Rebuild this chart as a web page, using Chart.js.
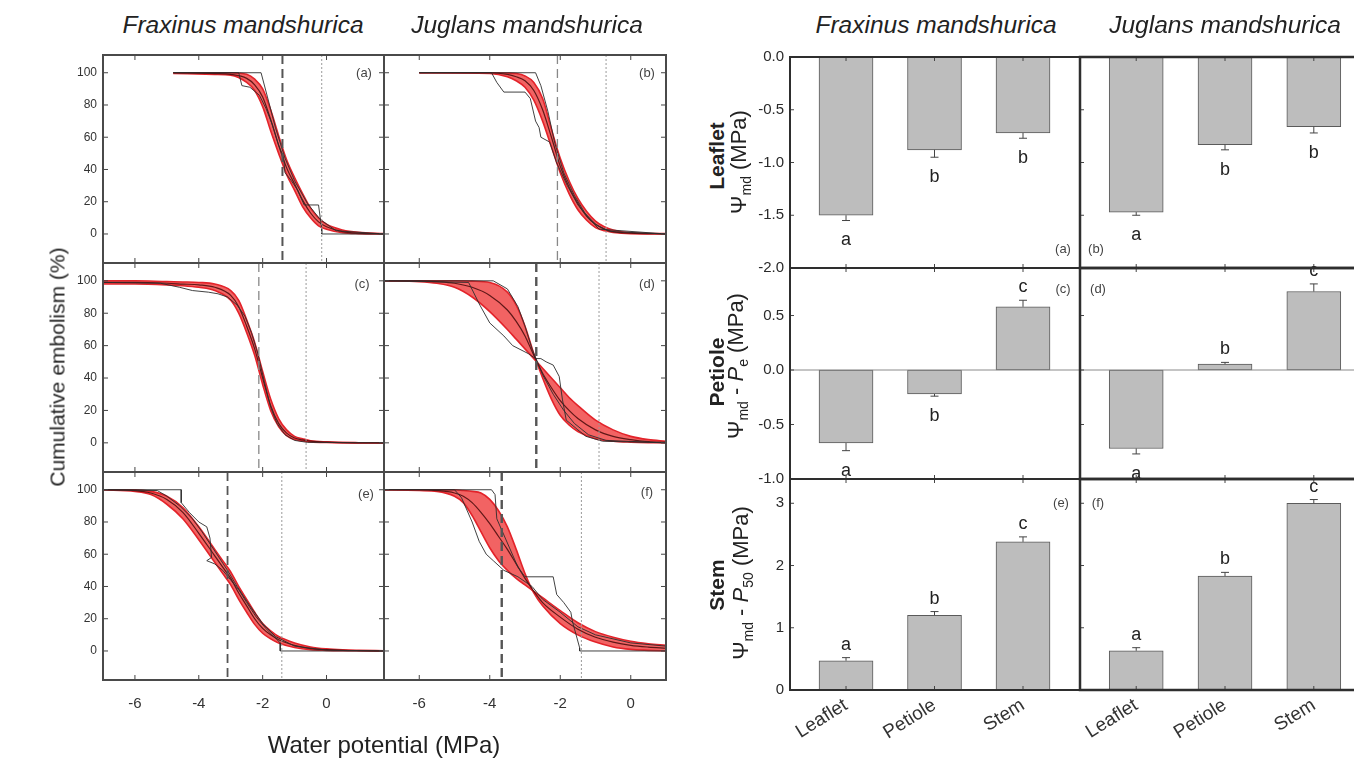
<!DOCTYPE html>
<html><head><meta charset="utf-8">
<script src="https://cdn.jsdelivr.net/npm/chart.js@4.4.1/dist/chart.umd.min.js"></script>
<style>
html,body{margin:0;padding:0;background:#fff;overflow:hidden;width:1354px;height:767px;position:relative;}
canvas{position:absolute;}
.t{position:absolute;font-family:"Liberation Sans",Arial,Helvetica,sans-serif;color:#222;white-space:nowrap;transform:translate(-50%,-50%);line-height:1;}
.hd{font-style:italic;font-size:24.5px;}
.rot{transform:translate(-50%,-50%) rotate(-90deg);}
.pl{font-size:13px;color:#444;}
.yt{font-size:22px;}
.yt sub{font-size:14px;vertical-align:-5px;}
.rl{font-size:21px;font-weight:bold;}
</style></head><body>
<script>
// ---------------- DATA ----------------
// Vulnerability curves: x = water potential (MPa), y = cumulative embolism (%)
const vcTicksX = [-6, -4, -2, 0];
const vcTicksY = [0, 20, 40, 60, 80, 100];
const p50 = [-1.38, -2.08, -2.12, -2.68, -3.1, -3.66];   // dashed lines (a)-(f)
const pe  = [-0.15, -0.7, -0.64, -0.9, -1.4, -1.4];      // dotted lines (a)-(f)

// (a) Fraxinus leaflet
const aX   = [-4.8, -3.5, -3, -2.5, -2.25, -2, -1.75, -1.5, -1.25, -1, -0.75, -0.5, -0.25, 0, 0.5, 1, 1.8];
const aHi  = [100, 100, 100, 99, 96, 90, 77, 61, 46, 35, 25, 16, 10, 6, 2.5, 1, 0.3];
const aLo  = [99.5, 99, 98.5, 94, 89, 79, 64, 50, 37, 27, 17, 10, 5, 3, 0.8, 0.2, 0];
const aMid = [100, 99.5, 99, 96.5, 92.5, 85, 71, 55, 41, 31, 21, 13, 7.5, 4.5, 1.5, 0.5, 0.1];
const aRaw1X = [-4.8, -2.75, -2.65, -2.4, -2.1, -1.9, -1.7, -1.5, -1.35, -1.3, -1.1, -0.9, -0.7, -0.25, -0.15, -0.15, 1.8];
const aRaw1Y = [100, 100, 92, 91, 86, 78, 68, 55, 48, 38, 33, 27, 18, 18, 3, 0, 0];
const aRaw2X = [-4.8, -2.05, -1.85, -1.6, -1.3, -1.0, -0.6, -0.2, 0.3, 1.8];
const aRaw2Y = [100, 100, 85, 66, 47, 33, 19, 9, 2, 0];

// (b) Juglans leaflet
const bX   = [-6, -4, -3.5, -3.25, -3, -2.75, -2.5, -2.25, -2, -1.75, -1.5, -1.25, -1, -0.75, -0.5, 0, 1];
const bHi  = [100, 100, 99.8, 99.5, 98, 94, 84, 65, 47, 33, 22, 14, 8, 4.5, 2.5, 0.8, 0.2];
const bLo  = [100, 99.5, 97.5, 95, 91, 83, 70, 54, 38, 25, 15, 8.5, 4, 2, 1, 0.2, 0];
const bMid = [100, 100, 99, 97.5, 95, 89, 77, 60, 42, 29, 19, 11, 6, 3, 1.5, 0.5, 0.1];
const bRaw1X = [-6, -3.95, -3.8, -3.6, -3.0, -2.85, -2.7, -2.6, -2.55, -2.3, -2.1, -1.8, -1.5, -1.2, -0.9, 1];
const bRaw1Y = [100, 100, 94, 88, 88, 84, 70, 66, 60, 57, 44, 30, 18, 10, 3, 0];
const bRaw2X = [-6, -2.7, -2.55, -2.35, -2.15, -1.9, -1.6, -1.3, -1.0, -0.6, 1];
const bRaw2Y = [100, 100, 92, 76, 56, 38, 24, 13, 6, 1.5, 0];

// (c) Fraxinus petiole
const cX   = [-7, -6, -5, -4.5, -4, -3.5, -3, -2.75, -2.5, -2.25, -2, -1.75, -1.5, -1.25, -1, -0.75, -0.5, 0, 1, 1.8];
const cHi  = [100, 100, 99.5, 99.3, 99, 98, 94, 88, 76, 62, 44, 27, 15, 8, 4, 2.5, 1.3, 0.6, 0.1, 0];
const cLo  = [98, 98, 97.5, 97, 96, 94, 88, 80, 68, 54, 36, 20, 10, 4.5, 2, 1.2, 0.6, 0.2, 0, 0];
const cMid = [99, 99, 98.5, 98, 97.5, 96, 91, 84, 72, 58, 40, 23, 12, 6, 3, 1.8, 1, 0.4, 0, 0];
const cRaw1X = [-7, -5.2, -4.6, -4.2, -3.7, -3.4, -3.1, -2.8, -2.55, -2.35, -2.15, -1.95, -1.75, -1.55, -1.3, -1.0, -0.6, 1.8];
const cRaw1Y = [99, 98.5, 96, 94, 93, 92, 90, 85, 78, 68, 55, 38, 22, 12, 5, 1.5, 0.3, 0];

// (d) Juglans petiole
const dX   = [-7, -6, -5.5, -5, -4.5, -4, -3.5, -3.25, -3, -2.75, -2.5, -2.25, -2, -1.75, -1.5, -1, -0.5, 0, 0.5, 1];
const dHi  = [100, 100, 100, 100, 99.8, 99, 93, 85, 72, 55, 40, 27, 17, 11, 7, 2.5, 1, 0.4, 0.1, 0];
const dLo  = [100, 99.5, 98.5, 96, 90, 81, 70, 64, 58, 52, 46, 40, 34, 28, 23, 14, 8, 4, 2, 1];
const dMid = [100, 100, 99.5, 98.5, 96, 91, 82, 75, 66, 54, 43, 34, 26, 20, 15, 8, 4, 2, 0.8, 0.4];
const dRaw1X = [-7, -4.6, -4.28, -4.0, -3.6, -3.35, -2.9, -2.7, -2.55, -2.4, -2.2, -2.03, -1.94, -1.83, -1.5, -1.27, -0.8, 1];
const dRaw1Y = [100, 99, 85, 74, 66, 60, 55, 52, 52, 50, 48, 41, 27, 14, 8, 4, 1, 0];
const dRaw2X = [-7, -3.9, -3.5, -3.2, -3.0, -2.8, -2.5, -2.2, -1.9, -1.6, -1.2, -0.7, 1];
const dRaw2Y = [100, 100, 95, 84, 72, 58, 42, 30, 20, 12, 5, 1.5, 0];

// (e) Fraxinus stem
const eX   = [-7, -6, -5.5, -5, -4.5, -4, -3.5, -3.25, -3, -2.75, -2.5, -2.25, -2, -1.75, -1.5, -1, -0.5, 0, 0.5, 1, 1.8];
const eHi  = [100, 100, 99, 96, 89, 77, 63, 56, 49, 40, 32, 24, 17, 12.5, 9, 5, 2.5, 1.3, 0.7, 0.4, 0.1];
const eLo  = [100, 99, 97, 91, 82, 69, 55, 48, 41, 32, 24, 16.5, 11, 7.5, 5, 2.2, 0.8, 0.4, 0.2, 0.1, 0];
const eMid = [100, 99.5, 98, 94, 86, 73, 59, 52, 45, 36, 28, 20, 14, 10, 7, 3.5, 1.5, 0.8, 0.4, 0.2, 0];
const eRaw1X = [-7, -4.55, -4.55, -4.3, -4.0, -3.75, -3.65, -3.6, -3.75, -3.5, -3.25, -3.0, -2.75, -2.5, -2.2, -1.9, -1.6, -1.45, -1.45, 1.8];
const eRaw1Y = [100, 100, 92, 86, 80, 77, 70, 58, 56, 54, 50, 44, 38, 30, 21, 14, 8, 5, 0, 0];
const eRaw2X = [-7, -5.3, -5.0, -4.6, -4.2, -3.9, -3.5, -3.1, -2.8, -2.4, -2.0, -1.6, -1.0, 0, 1.8];
const eRaw2Y = [100, 99.5, 96, 90, 82, 74, 62, 50, 40, 28, 17, 9, 3, 0.5, 0];

// (f) Juglans stem
const fX   = [-7, -6, -5.5, -5, -4.75, -4.5, -4.25, -4, -3.75, -3.5, -3.25, -3, -2.75, -2.5, -2, -1.5, -1, -0.5, 0, 0.5, 1];
const fHi  = [100, 100, 100, 100, 99.5, 99, 98, 94, 87, 77, 63, 48, 36, 28, 17, 10, 5.5, 2.5, 1, 0.4, 0];
const fLo  = [100, 99.5, 99, 96, 92, 84, 74, 64, 56, 50, 45, 41, 37, 33, 25, 17.5, 12, 8.5, 6, 4.5, 3.5];
const fMid = [100, 100, 99.5, 98, 96, 92, 86, 79, 71, 63, 54, 45, 37, 30, 21, 13.5, 8.5, 5.5, 3.5, 2.4, 1.7];
const fRaw1X = [-7, -3.95, -3.85, -3.8, -3.6, -3.4, -3.2, -3.0, -2.2, -2.1, -1.9, -1.7, -1.65, -1.45, -1.45, 1];
const fRaw1Y = [100, 100, 97, 82, 72, 62, 52, 46, 46, 35, 30, 24, 18, 2, 0, 0];
const fRaw2X = [-7, -5.0, -4.8, -4.5, -4.3, -4.1, -3.9, -3.6, -3.2, -2.8, -2.5, -2.0, -1.5, -1.0, 0, 1];
const fRaw2Y = [100, 100, 95, 80, 68, 60, 56, 50, 46, 40, 32, 24, 15, 10, 5, 3];

// Bar panels
const organs = ['Leaflet', 'Petiole', 'Stem'];
const psiMdF    = [-1.50, -0.88, -0.72]; const psiMdFErr = [0.05, 0.07, 0.05]; const psiMdFLet = ['a', 'b', 'b'];
const psiMdJ    = [-1.47, -0.83, -0.66]; const psiMdJErr = [0.03, 0.05, 0.06]; const psiMdJLet = ['a', 'b', 'b'];
const mPeF      = [-0.67, -0.22, 0.58];  const mPeFErr   = [0.07, 0.02, 0.06]; const mPeFLet   = ['a', 'b', 'c'];
const mPeJ      = [-0.72, 0.055, 0.72];  const mPeJErr   = [0.05, 0.015, 0.07]; const mPeJLet  = ['a', 'b', 'c'];
const mP50F     = [0.47, 1.20, 2.38];    const mP50FErr  = [0.05, 0.06, 0.08]; const mP50FLet  = ['a', 'b', 'c'];
const mP50J     = [0.63, 1.83, 3.00];    const mP50JErr  = [0.05, 0.06, 0.06]; const mP50JLet  = ['a', 'b', 'c'];
const ticksRow1 = [0, -0.5, -1.0, -1.5, -2.0];
const ticksRow2 = [0.5, 0, -0.5, -1.0];
const ticksRow3 = [0, 1, 2, 3];

// ---------------- RENDERING ----------------
Chart.defaults.font.family = '"Liberation Sans", Arial, Helvetica, sans-serif';
Chart.defaults.color = '#222';
Chart.defaults.animation = false;

const M = {l: 60, t: 15, r: 15, b: 70};

const framePlugin = {
  id: 'frame',
  afterDatasetsDraw(chart, args, o) {
    if (!o || !o.on) return;
    const ctx = chart.ctx, a = chart.chartArea, xs = chart.scales.x, ys = chart.scales.y;
    ctx.save();
    (o.vlines || []).forEach(v => {
      const px = xs.getPixelForValue(v.value);
      ctx.beginPath(); ctx.setLineDash(v.dash); ctx.lineWidth = v.width; ctx.strokeStyle = v.color;
      ctx.moveTo(px, a.top); ctx.lineTo(px, a.bottom); ctx.stroke();
    });
    ctx.setLineDash([]);
    if (o.zero) {
      const py = ys.getPixelForValue(0);
      ctx.beginPath(); ctx.lineWidth = 1; ctx.strokeStyle = '#8a8a8a';
      ctx.moveTo(a.left, py); ctx.lineTo(a.right, py); ctx.stroke();
    }
    const ds = chart.data.datasets[0];
    if (ds.errs) {
      ctx.strokeStyle = '#444'; ctx.lineWidth = 1;
      ctx.fillStyle = '#222'; ctx.font = '18px "Liberation Sans", Arial, sans-serif';
      ctx.textAlign = 'center'; ctx.textBaseline = 'middle';
      ds.data.forEach((d, i) => {
        const s = d.y >= 0 ? 1 : -1;
        const px = xs.getPixelForValue(d.x);
        const p0 = ys.getPixelForValue(d.y), p1 = ys.getPixelForValue(d.y + s * ds.errs[i]);
        ctx.beginPath(); ctx.moveTo(px, p0); ctx.lineTo(px, p1);
        ctx.moveTo(px - 4, p1); ctx.lineTo(px + 4, p1); ctx.stroke();
        ctx.fillText(ds.letters[i], px, p1 - s * (s > 0 ? 13 : 20));
      });
    }
    ctx.beginPath(); ctx.lineWidth = 1; ctx.strokeStyle = o.tickColor || '#444';
    const L = o.tickLen || 5;
    xs.ticks.forEach(t => {
      const px = xs.getPixelForValue(t.value);
      ctx.moveTo(px, a.bottom); ctx.lineTo(px, a.bottom - L);
      ctx.moveTo(px, a.top); ctx.lineTo(px, a.top + L);
    });
    ys.ticks.forEach(t => {
      const py = ys.getPixelForValue(t.value);
      ctx.moveTo(a.left, py); ctx.lineTo(a.left + L, py);
      if (o.rightTicks) { ctx.moveTo(a.right, py); ctx.lineTo(a.right - L, py); }
    });
    ctx.stroke();
    ctx.lineWidth = o.lw; ctx.strokeStyle = o.color;
    ctx.strokeRect(a.left, a.top, a.width, a.height);
    ctx.restore();
  }
};
Chart.register(framePlugin);

function place(rect) {
  const c = document.createElement('canvas');
  const w = rect.r - rect.l + M.l + M.r, h = rect.b - rect.t + M.t + M.b;
  c.width = w; c.height = h;
  c.style.left = (rect.l - M.l) + 'px'; c.style.top = (rect.t - M.t) + 'px';
  c.style.width = w + 'px'; c.style.height = h + 'px';
  document.body.appendChild(c);
  return c;
}
const pts = (xs, ys) => xs.map((x, i) => ({x: x, y: ys[i]}));

function vcChart(rect, p) {
  const ds = [];
  p.raws.forEach(r => ds.push({data: pts(r[0], r[1]), borderColor: 'rgba(45,45,45,0.9)', borderWidth: 1,
    pointRadius: 0, tension: 0, order: 1, fill: false}));
  ds.push({data: pts(p.x, p.mid), borderColor: 'rgba(70,10,10,0.85)', borderWidth: 1.2, pointRadius: 0,
    cubicInterpolationMode: 'monotone', order: 2, fill: false});
  ds.push({data: pts(p.x, p.hi), borderColor: '#e3232a', borderWidth: 1.6, pointRadius: 0,
    cubicInterpolationMode: 'monotone', order: 3, fill: false});
  ds.push({data: pts(p.x, p.lo), borderColor: '#e3232a', borderWidth: 1.6, pointRadius: 0,
    cubicInterpolationMode: 'monotone', order: 3, fill: '-1', backgroundColor: 'rgba(240,72,72,0.85)'});
  return new Chart(place(rect), {
    type: 'line',
    data: {datasets: ds},
    options: {
      responsive: false, animation: false, parsing: true,
      layout: {padding: {left: 0, top: M.t, right: M.r, bottom: 0}},
      plugins: {legend: {display: false}, tooltip: {enabled: false},
        frame: {on: true, lw: 2, color: '#4a4a4a', tickLen: 5, rightTicks: true, vlines: [
          {value: p.p50, dash: [9, 5], width: p.dashW, color: p.dashC},
          {value: p.pe, dash: [2, 2], width: 1, color: '#9a9a9a'}]}},
      scales: {
        x: {type: 'linear', min: -7, max: p.xmax, grid: {display: false, drawTicks: false}, border: {display: false},
          afterBuildTicks: s => { s.ticks = vcTicksX.map(v => ({value: v})); },
          afterFit: s => { s.height = M.b; },
          ticks: {display: p.showX, autoSkip: false, padding: 15, font: {size: 15}, color: '#333', callback: v => String(v)}},
        y: {type: 'linear', min: -18, max: 111, grid: {display: false, drawTicks: false}, border: {display: false},
          afterBuildTicks: s => { s.ticks = vcTicksY.map(v => ({value: v})); },
          afterFit: s => { s.width = M.l; },
          ticks: {display: p.showY, autoSkip: false, padding: 6, font: {size: 12}, color: '#333', callback: v => String(v)}}
      }
    }
  });
}

function barChart(rect, p) {
  return new Chart(place(rect), {
    type: 'bar',
    data: {datasets: [{data: p.vals.map((v, i) => ({x: i, y: v})), backgroundColor: '#bdbdbd', borderColor: '#5a5a5a',
      borderWidth: 1, borderSkipped: false, barThickness: 54, errs: p.errs, letters: p.letters}]},
    options: {
      responsive: false, animation: false,
      layout: {padding: {left: 0, top: M.t, right: M.r, bottom: 0}},
      plugins: {legend: {display: false}, tooltip: {enabled: false},
        frame: {on: true, lw: p.lw || 2, color: '#2e2e2e', tickLen: 4, zero: p.zero}},
      scales: {
        x: {type: 'linear', offset: false, min: -0.633, max: 2.644, grid: {display: false, drawTicks: false, offset: false}, border: {display: false},
          afterBuildTicks: s => { s.ticks = organs.map((_, i) => ({value: i})); },
          afterFit: s => { s.height = M.b; },
          ticks: {display: p.showX, autoSkip: false, minRotation: 32, maxRotation: 32, padding: 4,
            font: {size: 19}, color: '#333', callback: v => organs[v]}},
        y: {type: 'linear', min: p.min, max: p.max, grid: {display: false, drawTicks: false}, border: {display: false},
          afterBuildTicks: s => { s.ticks = p.ticks.map(v => ({value: v})); },
          afterFit: s => { s.width = M.l; },
          ticks: {display: p.showY, autoSkip: false, padding: 6, font: {size: 15}, color: '#2a2a2a', callback: p.fmt}}
      }
    }
  });
}

// Left group geometry
const LC = [{l: 103, r: 384, xmax: 1.8}, {l: 384, r: 666, xmax: 1}];
const LR = [{t: 55, b: 263}, {t: 263, b: 472}, {t: 472, b: 680}];
const vcPanels = [
  {x: aX, hi: aHi, lo: aLo, mid: aMid, raws: [[aRaw1X, aRaw1Y], [aRaw2X, aRaw2Y]], dashW: 2, dashC: '#555'},
  {x: bX, hi: bHi, lo: bLo, mid: bMid, raws: [[bRaw1X, bRaw1Y], [bRaw2X, bRaw2Y]], dashW: 1.3, dashC: '#888'},
  {x: cX, hi: cHi, lo: cLo, mid: cMid, raws: [[cRaw1X, cRaw1Y]], dashW: 1.3, dashC: '#888'},
  {x: dX, hi: dHi, lo: dLo, mid: dMid, raws: [[dRaw1X, dRaw1Y], [dRaw2X, dRaw2Y]], dashW: 2.4, dashC: '#555'},
  {x: eX, hi: eHi, lo: eLo, mid: eMid, raws: [[eRaw1X, eRaw1Y], [eRaw2X, eRaw2Y]], dashW: 1.8, dashC: '#555'},
  {x: fX, hi: fHi, lo: fLo, mid: fMid, raws: [[fRaw1X, fRaw1Y], [fRaw2X, fRaw2Y]], dashW: 2.4, dashC: '#555'}
];
vcPanels.forEach((p, k) => {
  const row = Math.floor(k / 2), col = k % 2;
  p.p50 = p50[k]; p.pe = pe[k]; p.xmax = LC[col].xmax;
  p.showX = row === 2; p.showY = col === 0;
  vcChart({l: LC[col].l, r: LC[col].r, t: LR[row].t, b: LR[row].b}, p);
});

// Right group geometry
const RC = [{l: 790, r: 1080}, {l: 1080, r: 1371}];
const RR = [{t: 57, b: 268, min: -2, max: 0, ticks: ticksRow1, fmt: v => v.toFixed(1)},
            {t: 268, b: 479, min: -1, max: 0.936, ticks: ticksRow2, fmt: v => v.toFixed(1), zero: true},
            {t: 479, b: 690, min: 0, max: 3.39, ticks: ticksRow3, fmt: v => String(v)}];
const barPanels = [
  [psiMdF, psiMdFErr, psiMdFLet], [psiMdJ, psiMdJErr, psiMdJLet],
  [mPeF, mPeFErr, mPeFLet], [mPeJ, mPeJErr, mPeJLet],
  [mP50F, mP50FErr, mP50FLet], [mP50J, mP50JErr, mP50JLet]
];
barPanels.forEach((b, k) => {
  const row = Math.floor(k / 2), col = k % 2, R = RR[row];
  barChart({l: RC[col].l, r: RC[col].r, t: R.t, b: R.b}, {
    vals: b[0], errs: b[1], letters: b[2], min: R.min, max: R.max, ticks: R.ticks, fmt: R.fmt,
    zero: R.zero, showX: row === 2, showY: col === 0, lw: col === 1 ? 2.5 : 2});
});
</script>

<div class="t hd" style="left:243px;top:25px">Fraxinus mandshurica</div>
<div class="t hd" style="left:527px;top:25px">Juglans mandshurica</div>
<div class="t hd" style="left:936px;top:25px">Fraxinus mandshurica</div>
<div class="t hd" style="left:1225px;top:25px">Juglans mandshurica</div>
<div class="t rot" style="left:57px;top:367px;font-size:21px">Cumulative embolism (%)</div>
<div class="t" style="left:384px;top:745px;font-size:24px">Water potential (MPa)</div>

<div class="t rot rl" style="left:716px;top:156px">Leaflet</div>
<div class="t rot rl" style="left:716px;top:372px">Petiole</div>
<div class="t rot rl" style="left:716px;top:585px">Stem</div>

<div class="t rot yt" style="left:740px;top:162px">Ψ<sub>md</sub> (MPa)</div>
<div class="t rot yt" style="left:737px;top:366px">Ψ<sub>md</sub> - <i>P</i><sub>e</sub> (MPa)</div>
<div class="t rot yt" style="left:742px;top:583px">Ψ<sub>md</sub> - <i>P</i><sub>50</sub> (MPa)</div>

<div class="t pl" style="left:364px;top:72px">(a)</div>
<div class="t pl" style="left:647px;top:72px">(b)</div>
<div class="t pl" style="left:362px;top:283px">(c)</div>
<div class="t pl" style="left:647px;top:283px">(d)</div>
<div class="t pl" style="left:366px;top:493px">(e)</div>
<div class="t pl" style="left:647px;top:491px">(f)</div>

<div class="t pl" style="left:1063px;top:248px">(a)</div>
<div class="t pl" style="left:1096px;top:248px">(b)</div>
<div class="t pl" style="left:1063px;top:288px">(c)</div>
<div class="t pl" style="left:1098px;top:288px">(d)</div>
<div class="t pl" style="left:1061px;top:502px">(e)</div>
<div class="t pl" style="left:1098px;top:502px">(f)</div>
</body></html>
